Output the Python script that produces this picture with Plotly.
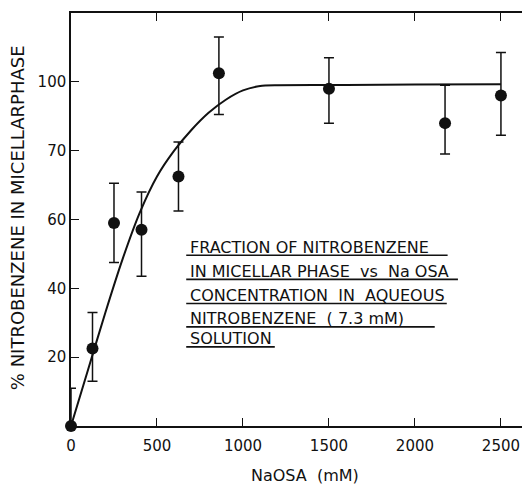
import plotly.graph_objects as go

# ---- data ----
naosa_mM = [0, 125, 250, 410, 625, 860, 1500, 2175, 2500]
pct_micellar = [0, 22.5, 59, 57, 72.5, 102.5, 98, 88, 96]
err_plus = [11, 10.5, 11.5, 11, 10, 10.5, 9, 11, 12.5]
err_minus = [0, 9.5, 11.5, 13.5, 10, 12, 10, 9, 11.5]

curve_x = [0, 100, 200, 300, 400, 500, 600, 700, 800, 900, 1000, 1100, 1200, 1600, 2000, 2500]
curve_y = [0, 16.5, 33, 48.5, 62, 72.5, 80, 86, 91, 94.8, 97.5, 98.8, 99, 99.1, 99.2, 99.3]

x_ticks = [0, 500, 1000, 1500, 2000, 2500]
x_tick_labels = ["0", "500", "1000", "1500", "2000", "2500"]
y_ticks = [20, 40, 60, 80, 100]
y_tick_labels = ["20", "40", "60", "70", "100"]

box_lines = [
    "FRACTION OF NITROBENZENE",
    "IN MICELLAR PHASE  vs  Na OSA",
    "CONCENTRATION  IN  AQUEOUS",
    "NITROBENZENE  ( 7.3 mM)",
    "SOLUTION",
]

FONT = "DejaVu Sans"
INK = "#111111"

fig = go.Figure()

fig.add_trace(go.Scatter(
    x=curve_x, y=curve_y, mode="lines",
    line=dict(color=INK, width=2, shape="spline", smoothing=0.6),
    hoverinfo="skip", showlegend=False,
))

fig.add_trace(go.Scatter(
    x=naosa_mM, y=pct_micellar, mode="markers",
    marker=dict(color=INK, size=12),
    error_y=dict(type="data", symmetric=False, array=err_plus, arrayminus=err_minus,
                 color=INK, thickness=1.5, width=5),
    cliponaxis=False, showlegend=False,
))

# invisible trace for right-hand tick marks
fig.add_trace(go.Scatter(x=[None], y=[None], yaxis="y2", showlegend=False))

# annotation text block with underlines
text_x0 = 680
text_y = [52.0, 44.8, 37.8, 31.1, 25.3]
under_y = [49.6, 42.6, 35.6, 28.8, 23.0]
under_x1 = [2190, 2250, 2185, 2115, 1185]
for t, ty, uy, ux in zip(box_lines, text_y, under_y, under_x1):
    fig.add_annotation(x=text_x0, y=ty, xref="x", yref="y", text=t, showarrow=False,
                       xanchor="left", yanchor="middle",
                       font=dict(family=FONT, size=16, color=INK))
    fig.add_shape(type="line", x0=text_x0 - 10, x1=ux, y0=uy, y1=uy, xref="x", yref="y",
                  line=dict(color=INK, width=1.6))

fig.add_annotation(x=0.51, y=-0.12, xref="paper", yref="paper", text="NaOSA  (mM)",
                   showarrow=False, xanchor="center", yanchor="middle",
                   font=dict(family=FONT, size=16, color=INK))
fig.add_annotation(x=-0.116, y=0.505, xref="paper", yref="paper",
                   text="% NITROBENZENE IN MICELLARPHASE", textangle=-90,
                   showarrow=False, xanchor="center", yanchor="middle",
                   font=dict(family=FONT, size=18, color=INK))

# the page body keeps an 8px default offset, so the figure is 8px smaller
fig.update_layout(
    width=522, height=478,
    margin=dict(l=63, r=0, t=5, b=60, autoexpand=False),
    paper_bgcolor="white", plot_bgcolor="white",
    font=dict(family=FONT, color=INK),
    xaxis=dict(range=[0, 2669], tickvals=x_ticks, ticktext=x_tick_labels,
               ticks="inside", ticklen=8, tickwidth=1.3, tickcolor=INK,
               showline=True, linecolor=INK, linewidth=1.5, mirror="ticks",
               showgrid=False, zeroline=False, ticklabelstandoff=5, automargin=False,
               tickfont=dict(family=FONT, size=15, color=INK)),
    yaxis=dict(range=[0, 120], tickvals=y_ticks, ticktext=y_tick_labels,
               ticks="inside", ticklen=8, tickwidth=1.3, tickcolor=INK,
               showline=True, linecolor=INK, linewidth=1.5,
               showgrid=False, zeroline=False, ticklabelstandoff=0, automargin=False,
               tickfont=dict(family=FONT, size=15, color=INK)),
    yaxis2=dict(range=[0, 120], overlaying="y", side="right", tickvals=y_ticks,
                showticklabels=False, ticks="inside", ticklen=8, tickwidth=1.3,
                tickcolor=INK, showline=False, showgrid=False, zeroline=False,
                automargin=False),
)

fig.write_html("out.html")
